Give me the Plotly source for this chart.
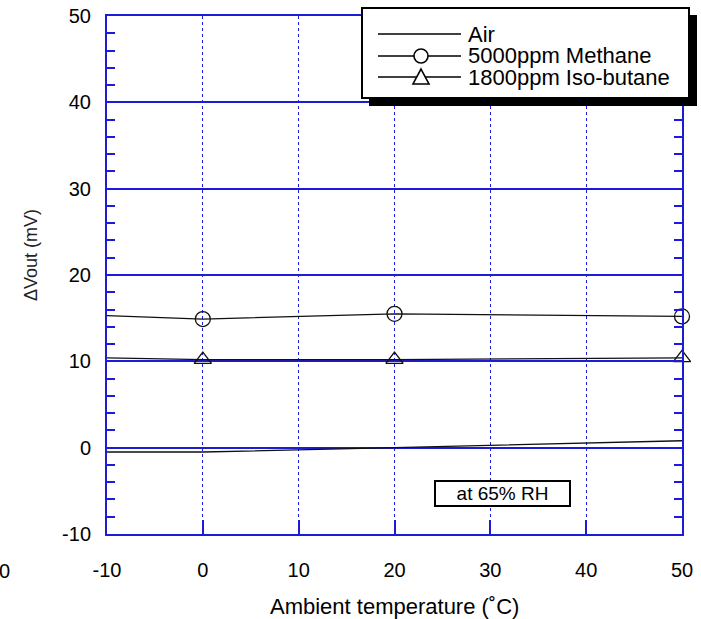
import plotly.graph_objects as go

# ---- data ----
temps = [-10, 0, 20, 50]
air = [-0.5, -0.5, 0.0, 0.8]
methane = [15.3, 14.9, 15.5, 15.2]
isobutane = [10.4, 10.2, 10.2, 10.4]
marker_temps = [0, 20, 50]
methane_pts = [14.9, 15.5, 15.2]
isobutane_pts = [10.2, 10.2, 10.4]
series_names = ["Air", "5000ppm Methane", "1800ppm Iso-butane"]
x_ticks = [-10, 0, 10, 20, 30, 40, 50]
y_ticks = [-10, 0, 10, 20, 30, 40, 50]

W, H = 701, 619
L, R, T, B = 107, 19, 16, 85
PW, PH = W - L - R, H - T - B
BLUE = "#1c1cd8"
FONT = "Liberation Sans, Arial, sans-serif"


def px(x):
    return (x - L) / PW


def py(y):
    return (H - B - y) / PH


fig = go.Figure()
LINE = dict(color="#111111", width=1.3)
fig.add_trace(go.Scatter(x=temps, y=air, mode="lines", line=LINE, showlegend=False))
fig.add_trace(go.Scatter(x=temps, y=methane, mode="lines", line=LINE, showlegend=False))
fig.add_trace(go.Scatter(x=temps, y=isobutane, mode="lines", line=LINE, showlegend=False))
fig.add_trace(go.Scatter(x=marker_temps, y=methane_pts, mode="markers", cliponaxis=False,
                         marker=dict(symbol="circle-open", size=15, color="#111111",
                                     line=dict(width=1.3, color="#111111")),
                         showlegend=False))
fig.add_trace(go.Scatter(x=marker_temps, y=isobutane_pts, mode="markers", cliponaxis=False,
                         marker=dict(symbol="triangle-up-open", size=15, color="#111111",
                                     line=dict(width=1.3, color="#111111")),
                         showlegend=False))

shapes = []
# legend shadow and box
shapes.append(dict(type="rect", xref="paper", yref="paper", layer="above",
                   x0=px(369), x1=px(697), y0=py(106), y1=py(15),
                   fillcolor="black", line=dict(width=0)))
shapes.append(dict(type="rect", xref="paper", yref="paper", layer="above",
                   x0=px(362), x1=px(689), y0=py(98), y1=py(8),
                   fillcolor="white", line=dict(color="black", width=2)))
legend_y = [34, 56, 77]
for ly in legend_y:
    shapes.append(dict(type="line", xref="paper", yref="paper", layer="above",
                       x0=px(378), x1=px(461), y0=py(ly), y1=py(ly),
                       line=dict(color="black", width=1.6)))
cx = 421
r = 7
shapes.append(dict(type="circle", xref="paper", yref="paper", layer="above",
                   x0=px(cx - r), x1=px(cx + r), y0=py(legend_y[1] + r), y1=py(legend_y[1] - r),
                   fillcolor="white", line=dict(color="black", width=1.6)))
ty = legend_y[2]
tri = "M {:.5f},{:.5f} L {:.5f},{:.5f} L {:.5f},{:.5f} Z".format(
    px(cx), py(ty - 8), px(cx + 8), py(ty + 7), px(cx - 8), py(ty + 7))
shapes.append(dict(type="path", xref="paper", yref="paper", layer="above", path=tri,
                   fillcolor="white", line=dict(color="black", width=1.6)))

annotations = []
for ly, name in zip(legend_y, series_names):
    annotations.append(dict(x=px(466), y=py(ly), xref="paper", yref="paper", text=name,
                            xanchor="left", yanchor="middle", showarrow=False,
                            font=dict(family=FONT, size=22, color="black")))
annotations.append(dict(x=px(502.5), y=py(493.5), xref="paper", yref="paper", text="at 65% RH",
                        xanchor="center", yanchor="middle", showarrow=False,
                        width=131, height=21, borderpad=1, bgcolor="white",
                        bordercolor="black", borderwidth=2,
                        font=dict(family=FONT, size=19, color="black")))
annotations.append(dict(x=px(394.5), y=py(606), xref="paper", yref="paper",
                        text="Ambient temperature (˚C)", xanchor="center", yanchor="middle",
                        showarrow=False, font=dict(family=FONT, size=22, color="black")))
annotations.append(dict(x=px(31), y=py(255), xref="paper", yref="paper",
                        text="ΔVout (mV)", textangle=-90, xanchor="center", yanchor="middle",
                        showarrow=False, font=dict(family=FONT, size=18, color="#222222")))
annotations.append(dict(x=px(12), y=py(571), xref="paper", yref="paper", text="0",
                        xanchor="right", yanchor="middle", showarrow=False,
                        font=dict(family=FONT, size=20, color="black")))

fig.update_layout(
    width=W, height=H,
    margin=dict(l=L, r=R, t=T, b=B, pad=0, autoexpand=False),
    paper_bgcolor="white", plot_bgcolor="white",
    showlegend=False,
    shapes=shapes, annotations=annotations,
    font=dict(family=FONT, size=20, color="black"),
    xaxis=dict(range=[-10, 50], tickvals=x_ticks, ticktext=[str(v) for v in x_ticks],
               automargin=False,
               showgrid=True, gridcolor=BLUE, gridwidth=1, griddash="dot",
               zeroline=False, showline=True, linecolor=BLUE, linewidth=2, mirror=True,
               ticks="inside", ticklen=14, tickwidth=1.5, tickcolor=BLUE,
               ticklabelstandoff=17, tickfont=dict(family=FONT, size=20, color="black")),
    yaxis=dict(range=[-10, 50], tickvals=y_ticks, ticktext=[str(v) for v in y_ticks],
               automargin=False,
               showgrid=True, gridcolor=BLUE, gridwidth=1.5,
               zeroline=False, showline=True, linecolor=BLUE, linewidth=2, mirror="allticks",
               ticks="inside", ticklen=14, tickwidth=2, tickcolor=BLUE,
               minor=dict(ticks="inside", ticklen=8, tickwidth=2, tickcolor=BLUE, dtick=2,
                          tick0=0, showgrid=False),
               ticklabelstandoff=10, tickfont=dict(family=FONT, size=20, color="black")),
)

fig.write_html("out.html", config={"displayModeBar": False},
               post_script="document.body.style.margin='0';document.body.style.padding='0';")
